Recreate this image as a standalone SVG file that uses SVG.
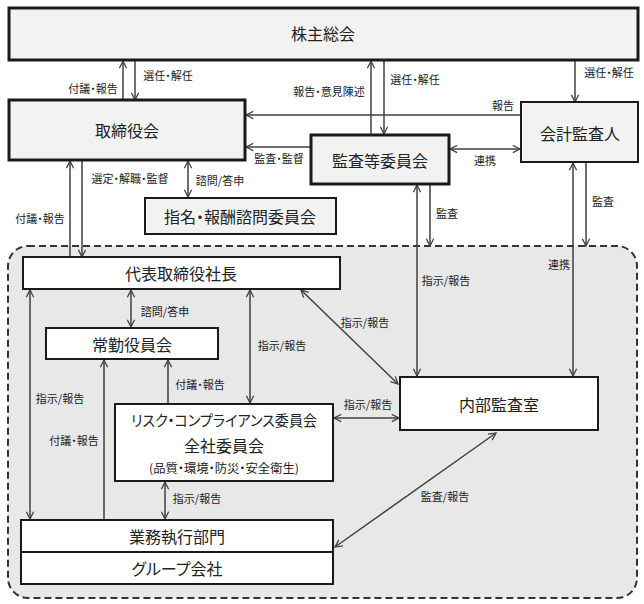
<svg xmlns="http://www.w3.org/2000/svg" width="644" height="604" viewBox="0 0 644 604">
<defs>
<marker id="ah" viewBox="0 0 10 10" refX="9" refY="5" markerWidth="9" markerHeight="9" markerUnits="userSpaceOnUse" orient="auto-start-reverse">
<path d="M1,1 L9,5 L1,9" fill="none" stroke="#404040" stroke-width="1.4"/>
</marker>
<style>
text{font-family:"Noto Sans CJK JP","Noto Sans CJK SC",sans-serif;fill:#222;text-anchor:middle;dominant-baseline:central;font-feature-settings:"palt"}
.lbl{font-size:11px}
.big{font-size:16px}
.gbox{fill:#f2f2f2;stroke:#1a1a1a;stroke-width:3}
.gbox2{fill:#f2f2f2;stroke:#1a1a1a;stroke-width:2}
.wbox{fill:#ffffff;stroke:#1a1a1a;stroke-width:2}
.c{stroke:#404040;stroke-width:1.5;fill:none}
.a{marker-end:url(#ah)}
.b{marker-start:url(#ah);marker-end:url(#ah)}
</style>
</defs>
<rect id="region" x="8" y="246" width="629" height="352" rx="20" ry="20" fill="#e8e8e8" stroke="#333" stroke-width="2" stroke-dasharray="7,4"/>

<g id="connectors">
<line class="c a" x1="123" y1="100" x2="123" y2="61"/>
<line class="c a" x1="135" y1="61" x2="135" y2="100"/>
<line class="c a" x1="371" y1="134" x2="371" y2="61"/>
<line class="c a" x1="384" y1="61" x2="384" y2="134"/>
<line class="c a" x1="575" y1="61" x2="575" y2="102"/>
<line class="c a" x1="521" y1="115" x2="246" y2="115"/>
<line class="c a" x1="311" y1="147" x2="246" y2="147"/>
<line class="c b" x1="450" y1="149" x2="520" y2="149"/>
<line class="c b" x1="188" y1="161" x2="188" y2="197"/>
<line class="c a" x1="70" y1="257" x2="70" y2="161"/>
<line class="c a" x1="82" y1="161" x2="82" y2="257"/>
<line class="c a" x1="430" y1="185" x2="430" y2="246"/>
<line class="c b" x1="417" y1="185" x2="417" y2="376"/>
<line class="c a" x1="586" y1="163" x2="586" y2="246"/>
<line class="c b" x1="573" y1="163" x2="573" y2="376"/>
<line class="c b" x1="131" y1="290" x2="131" y2="327"/>
<line class="c b" x1="250" y1="290" x2="250" y2="403"/>
<line class="c b" x1="301" y1="290" x2="398" y2="384"/>
<line class="c b" x1="30" y1="290" x2="30" y2="519"/>
<line class="c a" x1="104" y1="520" x2="104" y2="360"/>
<line class="c a" x1="168" y1="403" x2="168" y2="360"/>
<line class="c b" x1="334" y1="418" x2="399" y2="418"/>
<line class="c b" x1="165" y1="482" x2="165" y2="519"/>
<line class="c b" x1="496" y1="433" x2="335" y2="547"/>
</g>

<g id="labels">
<text class="lbl" x="93" y="88">付議・報告</text>
<text class="lbl" x="168" y="75">選任・解任</text>
<text class="lbl" x="329" y="91">報告・意見陳述</text>
<text class="lbl" x="415" y="79">選任・解任</text>
<text class="lbl" x="609" y="72">選任・解任</text>
<text class="lbl" x="503" y="105">報告</text>
<text class="lbl" x="279" y="158">監査・監督</text>
<text class="lbl" x="485" y="160">連携</text>
<text class="lbl" x="130" y="178">選定・解職・監督</text>
<text class="lbl" x="220" y="180">諮問/答申</text>
<text class="lbl" x="40" y="218">付議・報告</text>
<text class="lbl" x="447" y="213">監査</text>
<text class="lbl" x="603" y="201">監査</text>
<text class="lbl" x="559" y="264">連携</text>
<text class="lbl" x="446" y="280">指示/報告</text>
<text class="lbl" x="165" y="311">諮問/答申</text>
<text class="lbl" x="282" y="345">指示/報告</text>
<text class="lbl" x="365" y="322">指示/報告</text>
<text class="lbl" x="200" y="384">付議・報告</text>
<text class="lbl" x="60" y="398">指示/報告</text>
<text class="lbl" x="368" y="404">指示/報告</text>
<text class="lbl" x="74" y="440">付議・報告</text>
<text class="lbl" x="197" y="498">指示/報告</text>
<text class="lbl" x="445" y="496">監査/報告</text>
</g>

<g id="shareholders"><rect class="gbox" x="9" y="8" width="629" height="52"/><text class="big" x="323" y="33">株主総会</text></g>
<g id="board"><rect class="gbox" x="9" y="100" width="236" height="60"/><text class="big" x="127" y="130">取締役会</text></g>
<g id="audit-committee"><rect class="gbox" x="311" y="135" width="138" height="49"/><text class="big" x="380" y="160">監査等委員会</text></g>
<g id="accounting-auditor"><rect class="gbox2" x="521" y="102" width="117" height="60"/><text class="big" x="580" y="133">会計監査人</text></g>
<g id="nomination"><rect class="gbox2" x="145" y="198" width="191" height="36"/><text class="big" x="240" y="216">指名・報酬諮問委員会</text></g>
<g id="president"><rect class="wbox" x="23" y="257" width="317" height="32"/><text class="big" x="181" y="273">代表取締役社長</text></g>
<g id="executive-committee"><rect class="wbox" x="46" y="328" width="172" height="31"/><text class="big" x="132" y="344">常勤役員会</text></g>
<g id="risk-committee"><rect class="wbox" x="115" y="404" width="218" height="77"/>
<text x="224" y="419" style="font-size:15px" textLength="186" lengthAdjust="spacingAndGlyphs">リスク・コンプライアンス委員会</text>
<text x="224" y="445" style="font-size:16px">全社委員会</text>
<text x="224" y="467" style="font-size:12px" textLength="150" lengthAdjust="spacingAndGlyphs">(品質・環境・防災・安全衛生)</text></g>
<g id="internal-audit"><rect class="wbox" x="400" y="377" width="198" height="53"/><text class="big" x="499" y="404">内部監査室</text></g>
<g id="business-div"><rect class="wbox" x="21" y="520" width="312" height="32"/><text class="big" x="177" y="536">業務執行部門</text></g>
<g id="group-companies"><rect class="wbox" x="21" y="552" width="312" height="32"/><text class="big" x="177" y="568">グループ会社</text></g>
</svg>
